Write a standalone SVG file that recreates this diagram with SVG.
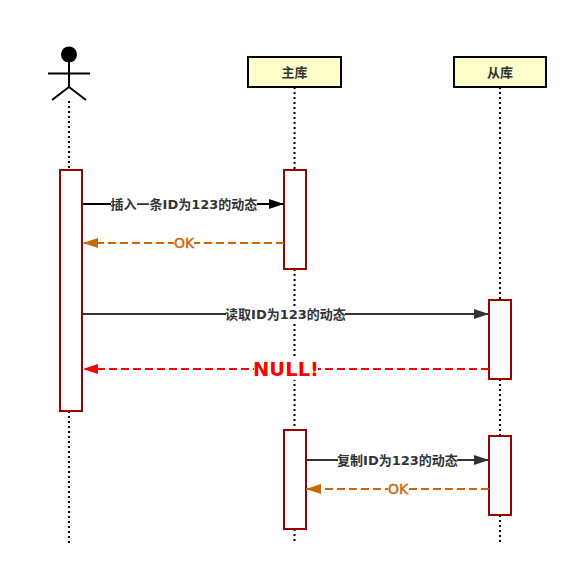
<svg xmlns="http://www.w3.org/2000/svg" width="577" height="575" viewBox="0 0 577 575">
<style>
text{font-family:"DejaVu Sans","Noto Sans CJK SC",sans-serif;font-weight:700;text-anchor:middle}
.life{stroke:#000;stroke-width:2;stroke-dasharray:2 3;fill:none}
.act{fill:#fff;stroke:#990000;stroke-width:2}
.head{fill:#ffffcc;stroke:#000;stroke-width:2}
.actor{stroke:#000;stroke-width:2;fill:none}
.lbl{font-size:13px;fill:#333}
.bg{fill:#fff}
.ok{font-size:14px;font-weight:400;fill:#cc6600;stroke:#cc6600;stroke-width:.4}
.c{fill:none;stroke-width:2}
</style>
<defs>
<marker id="ak" markerUnits="userSpaceOnUse" markerWidth="16" markerHeight="12" refX="15" refY="6" orient="auto"><path d="M0 1L15 6L0 11z" fill="#000"/></marker>
<marker id="ad" markerUnits="userSpaceOnUse" markerWidth="16" markerHeight="12" refX="15" refY="6" orient="auto"><path d="M0 1L15 6L0 11z" fill="#333"/></marker>
<marker id="ao" markerUnits="userSpaceOnUse" markerWidth="16" markerHeight="12" refX="15" refY="6" orient="auto"><path d="M0 1L15 6L0 11z" fill="#cc6600"/></marker>
<marker id="ar" markerUnits="userSpaceOnUse" markerWidth="16" markerHeight="12" refX="15" refY="6" orient="auto"><path d="M0 1L15 6L0 11z" fill="#f00"/></marker>
</defs>
<rect width="577" height="575" fill="#fff"/>
<g id="user">
<circle cx="69" cy="54.500" r="8" fill="#000"/>
<path class="actor" d="M69 62V87M48 73.500H90M52 100L69 87L86 100"/>
<path class="life" d="M69 101V170M69 411V543"/>
</g>
<g id="master">
<path class="life" d="M294.500 87V170M294.500 269V430M294.500 529V543"/>
<rect class="head" x="248" y="57" width="93" height="30"/>
<text x="294.500" y="76.500" font-size="13" fill="#333">主库</text>
</g>
<g id="slave">
<path class="life" d="M500 87V300M500 379V436M500 515V543"/>
<rect class="head" x="454" y="57" width="92" height="30"/>
<text x="500" y="76.500" font-size="13" fill="#333">从库</text>
</g>
<g id="activations">
<rect class="act" x="60" y="170" width="22" height="241"/>
<rect class="act" x="284" y="170" width="22" height="99"/>
<rect class="act" x="489" y="300" width="22" height="79"/>
<rect class="act" x="284" y="430" width="22" height="99"/>
<rect class="act" x="489" y="436" width="22" height="79"/>
</g>
<g id="connectors">
<path class="c" stroke="#000" marker-end="url(#ak)" d="M83 204H284"/>
<path class="c" stroke="#cc6600" stroke-dasharray="8 4" marker-end="url(#ao)" d="M284 243H83"/>
<path class="c" stroke="#333" marker-end="url(#ad)" d="M83 314H489"/>
<path class="c" stroke="#f00" stroke-dasharray="8 4" marker-end="url(#ar)" d="M489 369H83"/>
<path class="c" stroke="#333" marker-end="url(#ad)" d="M306 460H489"/>
<path class="c" stroke="#cc6600" stroke-dasharray="8 4" marker-end="url(#ao)" d="M489 489H306"/>
</g>
<g id="labels">
<rect class="bg" x="111" y="197" width="146" height="14"/>
<text class="lbl" x="184" y="209">插入一条ID为123的动态</text>
<rect class="bg" x="174" y="236" width="20" height="14"/>
<text class="ok" x="184" y="248">OK</text>
<rect class="bg" x="226" y="307" width="119" height="14"/>
<text class="lbl" x="285.500" y="319">读取ID为123的动态</text>
<rect class="bg" x="254" y="358" width="64" height="22"/>
<text x="286" y="376" font-size="19.500" fill="#f00">NULL!</text>
<rect class="bg" x="338" y="453" width="119" height="14"/>
<text class="lbl" x="397.500" y="465">复制ID为123的动态</text>
<rect class="bg" x="388" y="482" width="20" height="14"/>
<text class="ok" x="398" y="494">OK</text>
</g>
</svg>
